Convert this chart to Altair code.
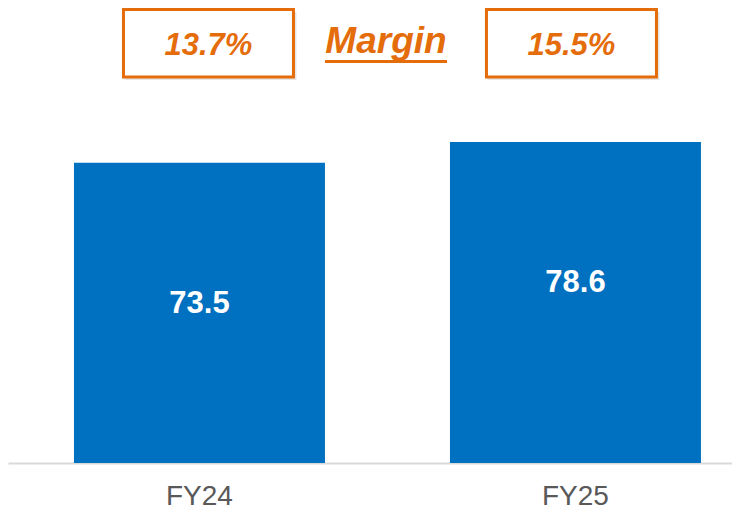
import altair as alt
import pandas as pd

# ---- data ----
years = ["FY24", "FY25"]
revenue = [73.5, 78.6]
margins = ["13.7%", "15.5%"]
margin_title = "Margin"

BLUE = "#0070C0"
ORANGE = "#E46C0A"
GRAY = "#595959"
FONT = "Liberation Sans"

W, H = 724, 455
Y_MAX = 111.4
BOX_SHIFT = [9, -4]

df = pd.DataFrame({"year": years, "value": revenue})

x_scale = alt.Scale(domain=years, paddingInner=0.3324, paddingOuter=0.129, align=0.68)
y_scale = alt.Scale(domain=[0, Y_MAX], nice=False, zero=True)

x_enc = alt.X(
    "year:N",
    scale=x_scale,
    sort=years,
    axis=alt.Axis(
        title=None,
        labelAngle=0,
        ticks=False,
        labelFontSize=28,
        labelColor=GRAY,
        labelFont=FONT,
        labelPadding=19,
        domainColor="#D9D9D9",
        domainWidth=2,
    ),
)

bars = alt.Chart(df).mark_bar(color=BLUE).encode(
    x=x_enc,
    y=alt.Y("value:Q", scale=y_scale, axis=None),
)

labels = alt.Chart(df).mark_text(
    color="white", fontSize=31, fontWeight="bold", font=FONT, baseline="middle", dy=141
).encode(
    x=alt.X("year:N", scale=x_scale, sort=years),
    y=alt.Y("value:Q", scale=y_scale),
    text=alt.Text("value:Q", format=".1f"),
)

layers = [bars, labels]

for i, (yr, m) in enumerate(zip(years, margins)):
    mdf = pd.DataFrame({"year": [yr], "margin": [m]})
    shadow = alt.Chart(mdf).mark_bar(
        width=172, xOffset=BOX_SHIFT[i] + 2, fill="#000000", fillOpacity=0.10
    ).encode(
        x=alt.X("year:N", scale=x_scale, sort=years),
        y=alt.value(4),
        y2=alt.value(72),
    )
    box = alt.Chart(mdf).mark_bar(
        width=170, xOffset=BOX_SHIFT[i], fill="white", stroke=ORANGE, strokeWidth=3
    ).encode(
        x=alt.X("year:N", scale=x_scale, sort=years),
        y=alt.value(1.5),
        y2=alt.value(69),
    )
    txt = alt.Chart(mdf).mark_text(
        color=ORANGE, fontSize=31, fontWeight="bold", fontStyle="italic", font=FONT,
        baseline="alphabetic", xOffset=BOX_SHIFT[i],
    ).encode(
        x=alt.X("year:N", scale=x_scale, sort=years),
        y=alt.value(47),
        text="margin:N",
    )
    layers += [shadow, box, txt]

tdf = pd.DataFrame({"t": [margin_title]})
title_txt = alt.Chart(tdf).mark_text(
    color=ORANGE, fontSize=37, fontWeight="bold", fontStyle="italic", font=FONT,
    baseline="alphabetic",
).encode(x=alt.value(378), y=alt.value(45), text="t:N")
underline = alt.Chart(tdf).mark_rule(color=ORANGE, strokeWidth=3).encode(
    x=alt.value(317), x2=alt.value(439), y=alt.value(53.5)
)
layers += [title_txt, underline]

chart = alt.layer(*layers).properties(
    width=W, height=H, padding={"left": 0, "top": 0, "right": 0, "bottom": 0}
).configure(background="white").configure_view(stroke=None)

chart.save("out.html", embed_options={"renderer": "svg", "actions": False})
